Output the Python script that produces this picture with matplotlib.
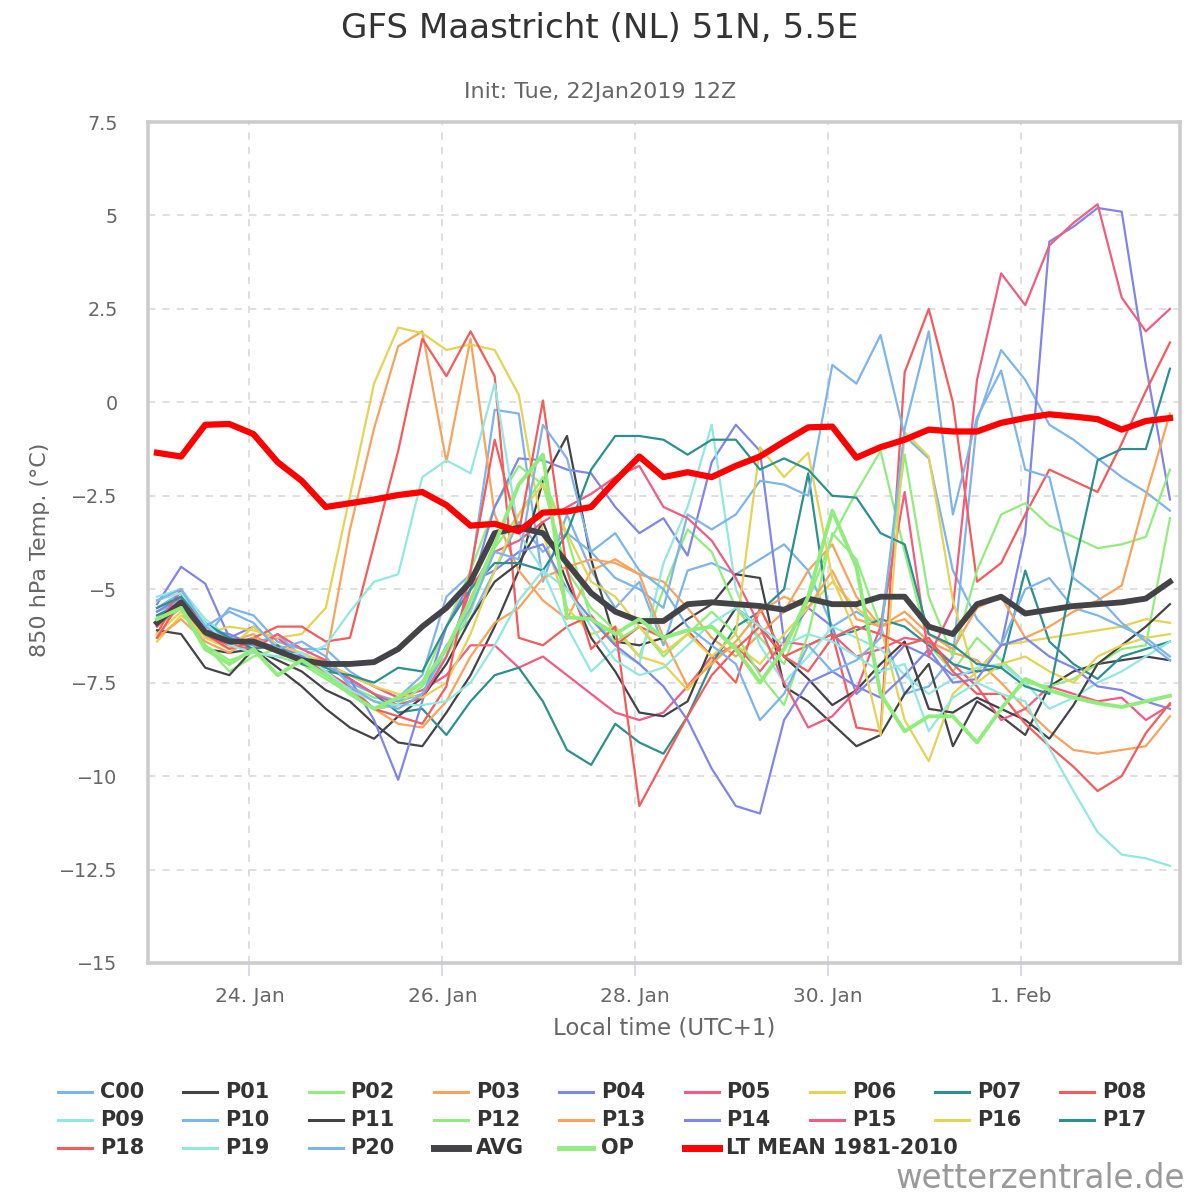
import pandas as pd
import matplotlib.pyplot as plt
from matplotlib.lines import Line2D
from matplotlib.ticker import FuncFormatter

# 6-hourly ensemble steps, local time (UTC+1)
times = pd.date_range('2019-01-23 01:00', periods=43, freq='6h')

c00 = [-5.5, -5.1, -6.3, -5.5, -5.7, -6.4, -6.6, -6.6, -7.2, -7.6, -7.9,
       -7.3, -5.2, -4.6, -0.2, -0.3, -4.8, -3.0, -4.5, -5.5, -4.8, -6.5,
       -4.5, -4.3, -4.6, -4.2, -3.8, -4.5, -6.0, -5.6, -6.0, -7.8, -7.6,
       -6.8, -0.5, 1.4, 0.6, -0.6, -1.0, -1.5, -2.0, -2.4, -2.9]
p01 = [-5.9, -5.5, -6.6, -6.7, -6.6, -6.9, -7.2, -7.7, -8.0, -8.6, -9.1,
       -9.2, -8.3, -7.3, -6.0, -4.5, -2.1, -0.9, -4.2, -6.4, -6.5, -6.3,
       -5.8, -5.4, -4.6, -4.7, -7.6, -8.0, -8.6, -9.2, -8.9, -7.8, -7.0,
       -9.2, -8.0, -8.4, -8.9, -7.6, -7.2, -7.0, -6.9, -6.8, -6.9]
p02 = [-5.7, -5.3, -6.5, -7.2, -6.8, -6.6, -6.9, -7.3, -7.6, -7.9, -8.0,
       -7.5, -6.0, -4.5, -2.8, -1.7, -2.2, -4.5, -5.5, -6.1, -6.8, -5.0,
       -3.4, -4.0, -5.5, -6.3, -7.0, -5.3, -3.6, -2.4, -1.3, -4.0, -6.5,
       -7.2, -6.3, -6.9, -7.5, -7.6, -7.4, -7.0, -6.6, -6.5, -3.1]
p03 = [-6.0, -5.5, -6.3, -6.4, -6.2, -6.7, -6.8, -6.9, -3.4, -0.7, 1.5,
       1.9, -1.6, 1.7, -3.0, -4.5, -5.3, -5.8, -4.5, -4.2, -4.6, -4.8,
       -5.5, -6.3, -6.8, -6.2, -5.6, -4.5, -3.8, -5.2, -6.0, -5.8, -6.4,
       -6.7, -6.9, -7.5, -8.2, -8.8, -9.3, -9.4, -9.3, -9.2, -8.4]
p04 = [-5.4, -4.4, -4.85, -6.3, -6.0, -6.5, -6.9, -7.2, -7.7, -8.2, -8.1,
       -7.9, -6.8, -5.0, -2.8, -1.5, -1.55, -1.8, -1.9, -2.8, -3.5, -3.1,
       -4.1, -1.6, -0.6, -1.3, -6.4, -5.5, -6.0, -7.8, -7.2, -6.5, -6.8,
       -7.3, -7.2, -6.5, -3.5, 4.3, 4.7, 5.2, 5.1, 1.0, -2.6]
p05 = [-5.8, -5.2, -6.0, -6.3, -6.4, -6.3, -6.8, -7.0, -7.3, -7.6, -7.9,
       -7.7, -7.3, -6.5, -6.5, -7.1, -6.8, -7.3, -7.8, -8.3, -8.5, -8.3,
       -7.6, -6.8, -6.5, -7.2, -6.4, -6.5, -6.2, -6.8, -6.6, -6.3, -6.4,
       -7.0, -7.6, -8.5, -8.2, -7.6, -7.8, -8.0, -7.9, -8.5, -8.1]
p06 = [-6.4, -5.7, -6.2, -6.0, -6.1, -6.3, -6.2, -5.5, -2.5, 0.5, 2.0,
       1.85, 1.4, 1.55, 1.4, 0.2, -3.5, -5.5, -6.2, -6.0, -6.8, -7.0,
       -7.7, -6.9, -6.5, -7.0, -6.2, -5.5, -4.8, -5.5, -6.0, -8.5, -9.6,
       -7.8, -7.2, -6.5, -6.4, -6.3, -6.2, -6.1, -6.0, -5.8, -5.9]
p07 = [-5.7, -5.4, -6.2, -6.4, -6.5, -6.6, -6.9, -7.1, -7.4, -7.8, -8.3,
       -8.2, -8.9, -8.0, -7.3, -7.1, -8.0, -9.3, -9.7, -8.6, -9.1, -9.4,
       -8.4, -7.0, -6.0, -5.6, -5.0, -1.9, -6.3, -6.1, -5.8, -6.0, -6.5,
       -7.0, -7.2, -7.1, -4.5, -6.4, -7.0, -7.4, -6.8, -6.6, -6.4]
p08 = [-6.2, -5.0, -6.2, -6.5, -6.3, -6.0, -6.0, -6.4, -6.3, -3.8, -1.3,
       1.7, 0.7, 1.9, 0.7, -6.3, -6.5, -6.0, -5.7, -6.5, -6.0, -6.3,
       -6.1, -6.8, -7.5, -5.5, -6.8, -6.5, -6.2, -8.7, -8.8, 0.8, 2.5,
       0.0, -4.8, -4.3, -3.0, -1.8, -2.1, -2.4, -1.1, 0.3, 1.6]
p09 = [-5.2, -5.0, -5.8, -6.3, -6.5, -6.6, -6.8, -6.5, -5.6, -4.8, -4.6,
       -2.0, -1.55, -1.9, 0.5, -3.5, -4.5, -6.0, -7.2, -6.6, -7.0, -4.3,
       -2.8, -0.6, -5.0, -6.5, -7.5, -6.8, -6.0, -6.3, -6.6, -7.3, -7.8,
       -7.4, -7.1, -7.0, -7.5, -8.2, -7.9, -7.5, -7.2, -6.8, -6.4]
p10 = [-5.6, -5.3, -6.0, -6.3, -6.5, -6.2, -6.8, -7.0, -7.5, -7.8, -8.0,
       -7.8, -6.5, -5.8, -4.5, -3.2, -4.0, -3.5, -4.0, -4.7, -5.0, -5.5,
       -3.0, -3.4, -3.0, -2.1, -2.2, -2.5, 1.0, 0.5, 1.8, -0.9, -1.5,
       -4.5, -5.8, -6.5, -5.0, -4.7, -5.5, -5.7, -6.0, -6.3, -6.8]
p11 = [-6.1, -6.2, -7.1, -7.3, -6.6, -7.1, -7.6, -8.2, -8.7, -9.0, -8.4,
       -7.9, -7.0, -5.8, -4.8, -4.3, -3.2, -4.8, -6.3, -7.2, -8.3, -8.4,
       -8.0, -6.5, -5.5, -6.0, -6.8, -7.4, -8.1, -7.7, -7.0, -6.4, -8.2,
       -8.3, -7.9, -8.2, -8.5, -9.0, -8.1, -7.0, -6.5, -6.0, -5.4]
p12 = [-5.8, -5.5, -6.5, -6.9, -6.7, -6.8, -7.0, -7.4, -7.8, -8.2, -8.1,
       -7.6, -6.8, -5.6, -3.9, -3.0, -2.0, -3.6, -5.8, -6.4, -6.0, -6.8,
       -6.2, -5.6, -6.2, -7.3, -8.1, -6.2, -3.5, -4.2, -6.0, -1.4, -5.2,
       -6.8, -4.5, -3.0, -2.7, -3.3, -3.6, -3.9, -3.8, -3.6, -1.8]
p13 = [-6.3, -5.8, -6.4, -6.7, -6.3, -6.6, -6.9, -7.2, -7.7, -8.2, -8.6,
       -8.7, -8.0, -6.8, -5.9, -5.5, -4.7, -4.4, -4.2, -4.3, -4.6, -6.3,
       -7.6, -7.0, -6.4, -5.6, -5.2, -5.5, -4.5, -5.8, -6.0, -5.6, -6.2,
       -6.6, -5.5, -5.2, -6.3, -6.0, -5.6, -5.3, -4.9, -2.5, -0.3]
p14 = [-5.6, -5.2, -6.1, -6.2, -6.5, -6.5, -6.8, -7.0, -7.4, -8.5, -10.1,
       -8.0, -6.0, -4.8, -4.5, -4.0, -3.8, -5.0, -5.8, -6.5, -7.0, -7.6,
       -8.5, -9.8, -10.8, -11.0, -8.5, -7.5, -7.2, -7.6, -7.9, -7.3, -6.6,
       -7.5, -7.4, -6.5, -6.3, -6.8, -7.1, -7.6, -7.7, -8.0, -8.2]
p15 = [-6.0, -5.0, -6.2, -6.5, -6.6, -6.2, -6.6, -6.9, -7.4, -7.8, -8.1,
       -7.9, -6.8, -5.0, -4.0, -3.7, -3.2, -2.8, -2.45, -2.0, -1.7, -2.8,
       -3.1, -3.7, -4.7, -6.0, -7.5, -8.7, -8.4, -7.7, -6.0, -2.4, -6.8,
       -5.5, 0.6, 3.45, 2.6, 4.2, 4.8, 5.3, 2.8, 1.9, 2.5]
p16 = [-6.2, -5.6, -6.3, -6.6, -6.0, -6.5, -6.7, -7.0, -7.3, -7.6, -7.8,
       -7.9, -7.5, -6.2, -4.5, -3.0, -2.2, -3.5, -4.8, -5.2, -6.0, -6.7,
       -6.2, -6.8, -6.2, -1.2, -2.0, -1.35, -4.7, -6.2, -8.9, -0.8, -1.45,
       -5.3, -7.5, -7.0, -6.8, -7.2, -7.5, -6.8, -6.5, -6.3, -6.2]
p17 = [-5.5, -5.2, -5.9, -6.3, -6.6, -6.5, -7.0, -7.2, -7.3, -7.5, -7.1,
       -7.2, -6.0, -5.0, -4.3, -4.3, -4.5, -3.5, -1.8, -0.9, -0.9, -1.0,
       -1.4, -1.0, -1.0, -1.8, -1.5, -1.8, -2.5, -2.55, -3.5, -3.8, -6.2,
       -6.5, -7.0, -7.1, -7.6, -7.8, -4.5, -1.55, -1.25, -1.25, 0.9]
p18 = [-6.3, -5.3, -6.2, -6.6, -6.4, -6.6, -6.9, -7.2, -7.6, -8.2, -8.4,
       -8.6, -7.6, -4.5, -1.0, -3.5, 0.05, -4.5, -6.6, -6.0, -10.8, -9.6,
       -8.4, -7.3, -6.6, -6.0, -6.8, -7.2, -6.3, -6.0, -6.2, -6.5, -6.3,
       -7.2, -7.8, -7.8, -8.6, -9.2, -9.75, -10.4, -10.0, -8.85, -8.05]
p19 = [-5.3, -5.1, -5.9, -6.5, -6.7, -6.8, -6.7, -7.2, -7.7, -8.0, -8.1,
       -8.1, -8.0, -7.5, -6.5, -5.3, -4.5, -5.0, -6.0, -6.9, -7.3, -7.1,
       -6.5, -5.9, -5.5, -6.0, -6.5, -6.2, -6.4, -6.8, -7.2, -7.0, -8.8,
       -7.9, -7.5, -7.8, -8.0, -9.25, -10.4, -11.5, -12.1, -12.2, -12.4]
p20 = [-5.3, -5.0, -6.0, -5.6, -5.9, -6.6, -6.4, -6.8, -7.6, -8.0, -8.2,
       -7.8, -6.6, -5.5, -4.0, -4.2, -0.6, -1.5, -4.0, -3.5, -4.5, -5.0,
       -6.0, -6.5, -7.0, -8.5, -7.8, -6.5, -7.2, -6.9, -6.3, -0.7, 1.9,
       -3.0, -0.4, 0.85, -1.8, -2.0, -4.7, -5.2, -5.9, -6.4, -6.9]
avg = [-5.9, -5.35, -6.15, -6.4, -6.4, -6.65, -6.9, -7.0, -7.0, -6.95, -6.6,
       -6.0, -5.5, -4.8, -3.5, -3.35, -3.5, -4.3, -5.1, -5.6, -5.85, -5.85,
       -5.4, -5.35, -5.4, -5.45, -5.55, -5.25, -5.4, -5.4, -5.2, -5.2, -6.0,
       -6.2, -5.4, -5.2, -5.65, -5.55, -5.45, -5.4, -5.35, -5.25, -4.8]
op = [-5.8, -5.5, -6.6, -7.0, -6.6, -7.3, -6.9, -7.3, -7.8, -8.2, -7.9,
      -7.5, -6.6, -5.3, -3.8, -2.2, -1.4, -5.75, -5.8, -6.2, -5.8, -6.3,
      -6.1, -6.0, -6.6, -7.5, -6.6, -5.2, -2.9, -4.4, -7.8, -8.8, -8.4,
      -8.4, -9.1, -8.2, -7.4, -7.7, -7.9, -8.05, -8.15, -8.0, -7.85]
lt_mean = [-1.35, -1.45, -0.6, -0.58, -0.85, -1.6, -2.1, -2.8, -2.7, -2.6, -2.48,
           -2.4, -2.75, -3.3, -3.25, -3.45, -2.95, -2.92, -2.8, -2.1, -1.45, -2.0,
           -1.87, -2.0, -1.7, -1.45, -1.05, -0.67, -0.65, -1.48, -1.2, -1.0, -0.73,
           -0.78, -0.78, -0.55, -0.42, -0.32, -0.38, -0.45, -0.73, -0.5, -0.42]

tick_days = ['2019-01-24', '2019-01-26', '2019-01-28', '2019-01-30', '2019-02-01']
tick_labels = ['24. Jan', '26. Jan', '28. Jan', '30. Jan', '1. Feb']

palette = ['#7cb5ec', '#434348', '#90ed7d', '#f7a35c', '#8085e9',
           '#f15c80', '#e4d354', '#2b908f', '#f45b5b', '#91e8e1']
member_names = ['C00'] + ['P%02d' % k for k in range(1, 21)]
member_data = [c00, p01, p02, p03, p04, p05, p06, p07, p08, p09, p10,
               p11, p12, p13, p14, p15, p16, p17, p18, p19, p20]

fig = plt.figure(figsize=(12, 12), dpi=100)
ax = fig.add_axes([148 / 1200, 1 - 963 / 1200, (1180 - 148) / 1200, (963 - 122) / 1200])

for k, vals in enumerate(member_data):
    ax.plot(times, vals, color=palette[k % 10], lw=1.6, zorder=2)
ax.plot(times, avg, color='#434348', lw=4.2, zorder=3)
ax.plot(times, op, color='#90ed7d', lw=2.8, zorder=4)
ax.plot(times, lt_mean, color='#ff0000', lw=4.5, zorder=5)

ax.set_xlim(times[0] - pd.Timedelta(hours=2.24), times[0] + pd.Timedelta(hours=254.5))
ax.set_ylim(-15, 7.5)
ax.set_yticks([-15 + 2.5 * k for k in range(10)])
ax.yaxis.set_major_formatter(FuncFormatter(lambda v, p: ('%g' % v).replace('-', '\u2212')))
ax.set_xticks(pd.to_datetime(tick_days))
ax.set_xticklabels(tick_labels)
ax.tick_params(axis='y', length=0, labelsize=13.8, colors='#666666', pad=22)
ax.tick_params(axis='x', length=9, width=1.2, color='#ccd6eb', labelsize=14.5,
               labelcolor='#666666', pad=8)
ax.grid(True, ls=(0, (4, 4)), color='#dcdcdc', lw=1.3)
ax.set_axisbelow(True)
for s in ax.spines.values():
    s.set_color('#cccccc')
    s.set_linewidth(2.6)

fig.text(0.5, 1 - 28 / 1200, 'GFS Maastricht (NL) 51N, 5.5E', ha='center', va='center',
         fontsize=24.6, color='#333333')
fig.text(0.5, 1 - 92 / 1200, 'Init: Tue, 22Jan2019 12Z', ha='center', va='center',
         fontsize=16, color='#666666')
fig.text(40 / 1200, 1 - 550 / 1200, '850 hPa Temp. (\u00b0C)', rotation=90, ha='center',
         va='center', fontsize=16, color='#666666')
fig.text(664 / 1200, 1 - 1028 / 1200, 'Local time (UTC+1)', ha='center', va='center',
         fontsize=16.5, color='#666666')

# legend laid out row by row, 9 fixed-width columns
legend_items = [(n, palette[k % 10], 2.2) for k, n in enumerate(member_names)]
legend_items += [('AVG', '#434348', 5), ('OP', '#90ed7d', 3.5), ('LT MEAN 1981-2010', '#ff0000', 5)]
for k, (name, col, lw) in enumerate(legend_items):
    row, c = divmod(k, 9)
    x0 = 58 + 125.3 * c
    yy = 1 - (1092 + 28 * row) / 1200
    fig.add_artist(Line2D([x0 / 1200, (x0 + 34) / 1200], [yy, yy], color=col, lw=lw,
                          transform=fig.transFigure))
    fig.text((x0 + 42) / 1200, yy, name, ha='left', va='center', fontsize=15,
             fontweight='bold', color='#333333')

fig.text(1185 / 1200, 1 - 1178 / 1200, 'wetterzentrale.de', ha='right', va='center',
         fontsize=23.5, color='#999999')

fig.savefig('out.png', dpi=100)
